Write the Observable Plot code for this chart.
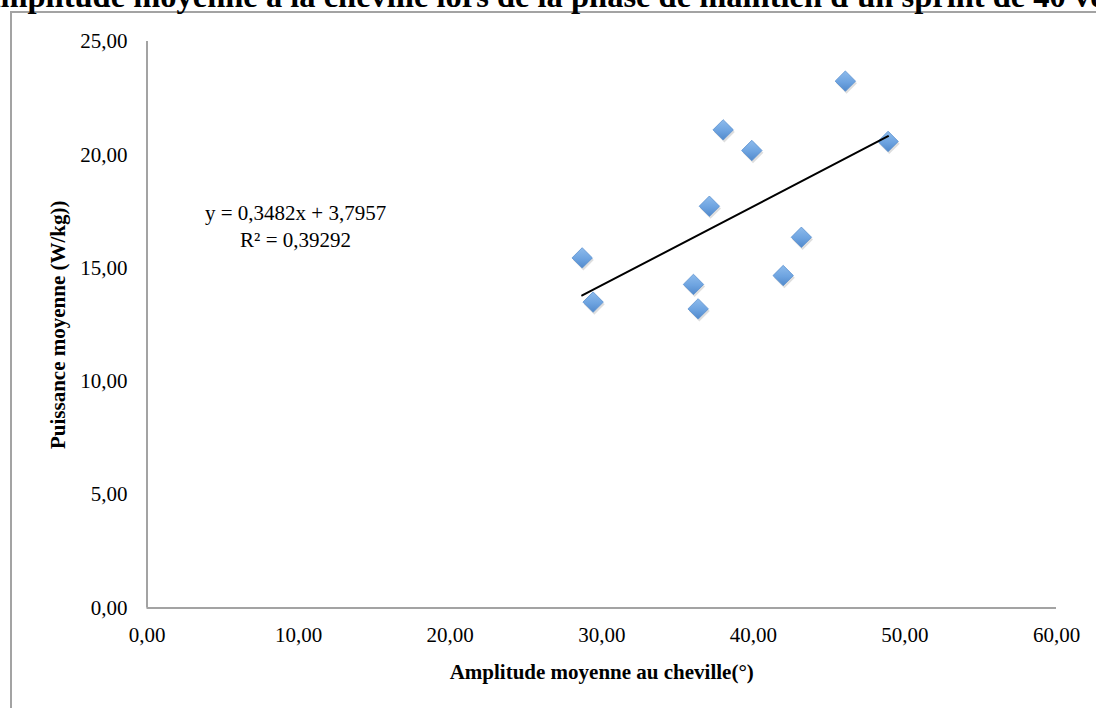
<!DOCTYPE html>
<html>
<head>
<meta charset="utf-8">
<script src="https://cdn.jsdelivr.net/npm/d3@7"></script>
<script src="https://cdn.jsdelivr.net/npm/@observablehq/plot@0.6"></script>
<style>
  html, body { margin: 0; padding: 0; background: #fff; }
  #wrap { position: relative; width: 1096px; height: 708px; overflow: hidden; background: #fff; }
  #frame { position: absolute; left: 9.5px; top: 10.5px; width: 1200px; height: 800px; border: 2px solid #a3a3a3; box-sizing: border-box; }
  #title { position: absolute; left: -23px; top: -20.5px; white-space: nowrap; font-family: "Liberation Serif", "Times New Roman", serif; font-weight: bold; font-size: 32.5px; line-height: 32.5px; color: #000; }
  #chart { position: absolute; left: 0; top: 0; }
</style>
</head>
<body>
<div id="wrap">
  <div id="frame"></div>
  <div id="title">Amplitude moyenne à la cheville lors de la phase de maintien d'un sprint de 40 verges</div>
  <div id="chart"></div>
</div>
<script>
// Data
const amplitude = [46.07, 38.01, 39.90, 48.89, 37.10, 43.17, 28.71, 36.05, 41.97, 29.43, 36.36];
const puissance = [23.25, 21.10, 20.19, 20.59, 17.73, 16.36, 15.45, 14.28, 14.67, 13.50, 13.20];
const slope = 0.3482;
const intercept = 3.7957;
const equationText = ["y = 0,3482x + 3,7957", "R² = 0,39292"];
const equationPos = {x: 9.8, y: 16.9};
const xTicks = [0, 10, 20, 30, 40, 50, 60];
const yTicks = [0, 5, 10, 15, 20, 25];
const xTitle = "Amplitude moyenne au cheville(°)";
const yTitle = "Puissance moyenne (W/kg))";

const points = amplitude.map((a, i) => ({x: a, y: puissance[i]}));
const xExt = d3.extent(amplitude);
const trend = xExt.map(x => ({x, y: slope * x + intercept}));
const fmt = d => d.toFixed(2).replace(".", ",");

const font = "'Liberation Serif', 'Times New Roman', serif";

const chart = Plot.plot({
  width: 1096,
  height: 708,
  marginLeft: 146.5,
  marginRight: 40,
  marginTop: 41,
  marginBottom: 100.5,
  style: {fontFamily: font, fontSize: "21px", background: "transparent", overflow: "visible"},
  x: {domain: [0, 60], ticks: xTicks},
  y: {domain: [0, 25], ticks: yTicks},
  marks: [
    Plot.axisX(xTicks, {tickSize: 0, tickPadding: 19.5, tickFormat: fmt, label: null, fontSize: 21, fill: "#000"}),
    Plot.axisY(yTicks, {tickSize: 0, tickPadding: 19.5, tickFormat: fmt, label: null, fontSize: 21, fill: "#000"}),
    Plot.ruleY([0], {stroke: "#a3a3a3", strokeWidth: 2}),
    Plot.ruleX([0], {stroke: "#a3a3a3", strokeWidth: 2}),
    Plot.dot(points, {x: "x", y: "y", symbol: "diamond2", r: 9.4, fill: "#000", fillOpacity: 0.13, stroke: "none", dx: 1.2, dy: 2.2}),
    Plot.dot(points, {x: "x", y: "y", symbol: "diamond2", r: 9.2, fill: "url(#diamGrad)", stroke: "#5a90cf", strokeWidth: 0.8}),
    Plot.line(trend, {x: "x", y: "y", stroke: "#000", strokeWidth: 2}),
    Plot.text([equationText.join("\n")], {x: () => equationPos.x, y: () => equationPos.y, fontSize: 21, lineHeight: 1.286, textAnchor: "middle", fill: "#000"}),
    Plot.text([xTitle], {frameAnchor: "bottom", dy: 64, fontSize: 21, fontWeight: "bold", fill: "#000", textAnchor: "middle", lineAnchor: "middle"}),
    Plot.text([yTitle], {frameAnchor: "left", dx: -88.5, rotate: -90, fontSize: 21, fontWeight: "bold", fill: "#000", textAnchor: "middle", lineAnchor: "middle"})
  ]
});

const svg = d3.select(chart);
const defs = svg.insert("defs", ":first-child");
const g = defs.append("linearGradient").attr("id", "diamGrad").attr("x1", 0).attr("y1", 0).attr("x2", 0).attr("y2", 1);
g.append("stop").attr("offset", "0%").attr("stop-color", "#8dbbec");
g.append("stop").attr("offset", "55%").attr("stop-color", "#6da3e0");
g.append("stop").attr("offset", "100%").attr("stop-color", "#5189cb");

document.getElementById("chart").appendChild(chart);
</script>
</body>
</html>
